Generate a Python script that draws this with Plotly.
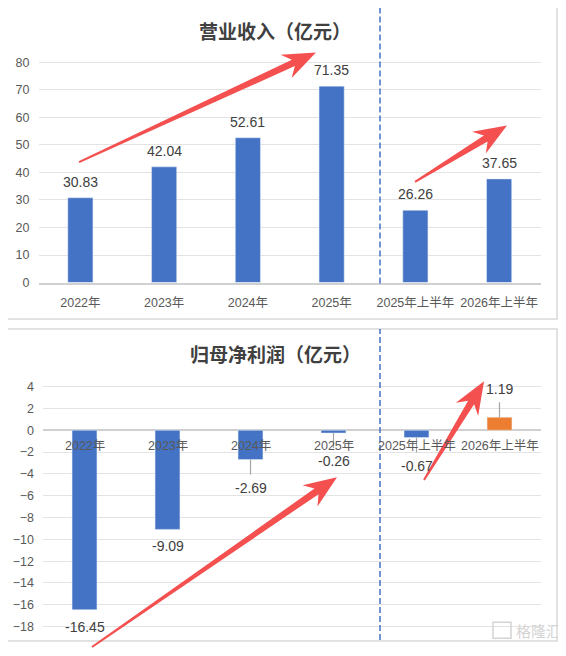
import math
import plotly.graph_objects as go

# data
years = ['2022年', '2023年', '2024年', '2025年', '2025年上半年', '2026年上半年']
revenue = [30.83, 42.04, 52.61, 71.35, 26.26, 37.65]
net_profit = [-16.45, -9.09, -2.69, -0.26, -0.67, 1.19]

# the page body has an 8px margin, so the figure is drawn 8px in
OFF = 8
W, H = 566 - OFF, 656 - OFF
BLUE = '#4472c4'
ORANGE = '#ed7d31'
RED = '#f45050'
FONT = 'Liberation Sans, Noto Sans CJK SC, sans-serif'
TEXT = '#404040'
TICK = '#595959'

profit_colors = [ORANGE if v > 0 else BLUE for v in net_profit]
# labels that Excel moved away from the bar and joined with a leader line
has_leader = [False, False, True, True, True, True]

# arrows drawn on the screenshot, in pixels: (tail x, tail y, tip x, tip y)
arrows = [
    (79, 163, 316, 52),
    (415, 183, 507, 126),
    (92, 654, 337, 482),
    (424, 485, 484, 385),
]


def px(x):
    return (x - OFF) / W


def py(y):
    return 1 - (y - OFF) / H


def arrow_path(x0, y0, x1, y1):
    dx, dy = x1 - x0, y1 - y0
    L = math.hypot(dx, dy)
    ux, uy = dx / L, dy / L
    nx, ny = -uy, ux

    def pt(d, w):
        return (x0 + ux * d + nx * w, y0 + uy * d + ny * w)

    pts = [pt(0, 1), pt(L - 25, 3.5), pt(L - 33, 13), pt(L, 0),
           pt(L - 33, -13), pt(L - 25, -3.5), pt(0, -1)]
    return 'M ' + ' L '.join(f'{px(x):.5f},{py(y):.5f}' for x, y in pts) + ' Z'


fig = go.Figure()

fig.add_trace(go.Bar(
    x=years, y=revenue, marker_color=BLUE, width=0.3,
    xaxis='x', yaxis='y', showlegend=False,
))
fig.add_trace(go.Bar(
    x=years, y=net_profit, marker_color=profit_colors, width=0.3,
    xaxis='x2', yaxis='y2', showlegend=False,
))

shapes = []
annotations = []

# panel frames
for top, bottom in [(5, 322), (332, 648)]:
    shapes.append(dict(type='rect', xref='paper', yref='paper',
                       x0=px(4.5), x1=px(557), y0=py(bottom), y1=py(top),
                       line=dict(color='#d9d9d9', width=1.5)))

# dashed separators
for top, bottom in [(6, 286), (332, 647)]:
    shapes.append(dict(type='line', xref='paper', yref='paper',
                       x0=px(380), x1=px(380), y0=py(bottom), y1=py(top),
                       line=dict(color=BLUE, width=1.5, dash='6px,3px')))

# titles
for text, ty in [('营业收入（亿元）', 30), ('归母净利润（亿元）', 357)]:
    annotations.append(dict(text=f'<b>{text}</b>', xref='paper', yref='paper',
                            x=px(275), y=py(ty), showarrow=False,
                            xanchor='center', yanchor='middle',
                            font=dict(size=19, color=TEXT,
                                      family='Noto Sans CJK SC')))

# revenue labels
for cat, v in zip(years, revenue):
    annotations.append(dict(text=f'{v:.2f}', x=cat, y=v, xref='x', yref='y',
                            showarrow=False, yshift=16, yanchor='middle',
                            font=dict(size=14, color=TEXT, family=FONT)))

# profit labels + leader lines
for cat, v, lead in zip(years, net_profit, has_leader):
    sign = 1 if v > 0 else -1
    shift = 28 if lead else 17
    annotations.append(dict(text=f'{v:.2f}', x=cat, y=v, xref='x2', yref='y2',
                            showarrow=False, yshift=sign * shift,
                            yanchor='middle',
                            font=dict(size=14, color=TEXT, family=FONT)))
    if lead:
        shapes.append(dict(type='line', xref='x2', yref='y2',
                           ysizemode='pixel', yanchor=v,
                           x0=cat, x1=cat, y0=0, y1=sign * 15,
                           line=dict(color='#a6a6a6', width=1.2)))

# category labels of the profit chart sit on the zero line
for cat in years:
    annotations.append(dict(text=cat, x=cat, y=0, xref='x2', yref='y2',
                            showarrow=False, yshift=-16, yanchor='middle',
                            font=dict(size=12.5, color=TICK, family=FONT)))

# red arrows
for a in arrows:
    shapes.append(dict(type='path', xref='paper', yref='paper',
                       path=arrow_path(*a), fillcolor=RED,
                       line=dict(width=0), layer='above'))

# watermark
shapes.append(dict(type='rect', xref='paper', yref='paper',
                   x0=px(493), x1=px(511), y0=py(645), y1=py(629),
                   line=dict(color='#d4d4d4', width=1.5)))
annotations.append(dict(text='格隆汇', xref='paper', yref='paper',
                        x=px(538), y=py(637), showarrow=False,
                        xanchor='center', yanchor='middle',
                        font=dict(size=15, color='#d4d4d4',
                                  family='Noto Sans CJK SC')))

axis_font = dict(size=12.5, color=TICK, family=FONT)

fig.update_layout(
    width=W, height=H,
    margin=dict(l=0, r=0, t=0, b=0),
    paper_bgcolor='white', plot_bgcolor='white',
    bargap=0.7,
    shapes=shapes,
    annotations=annotations,
    xaxis=dict(domain=[px(38.5), px(541)], anchor='y', type='category',
               showgrid=False, showline=True, linecolor='#d0d0d0',
               linewidth=1.5, tickfont=axis_font, ticks='',
               ticklabelstandoff=8),
    yaxis=dict(domain=[py(285), py(285 - 82 * 2.7875)], anchor='x',
               range=[0, 82], dtick=10, tick0=0, showgrid=True,
               gridcolor='#e3e3e3', gridwidth=1.2, zeroline=False,
               showline=False, tickfont=axis_font, ticks='',
               ticklabelstandoff=8),
    xaxis2=dict(domain=[px(43), px(541)], anchor='y2', type='category',
                showgrid=False, showline=False, showticklabels=False,
                ticks=''),
    yaxis2=dict(domain=[py(633.3 + 0.6 * 11.045), py(390.3 - 0.6 * 11.045)],
                anchor='x2', range=[-18.6, 4.6], dtick=2, tick0=0,
                showgrid=True, gridcolor='#e3e3e3', gridwidth=1.2,
                zeroline=True, zerolinecolor='#d0d0d0', zerolinewidth=1.5,
                showline=False, tickfont=axis_font, ticks='',
                ticklabelstandoff=8),
)

fig.write_html('out.html')
